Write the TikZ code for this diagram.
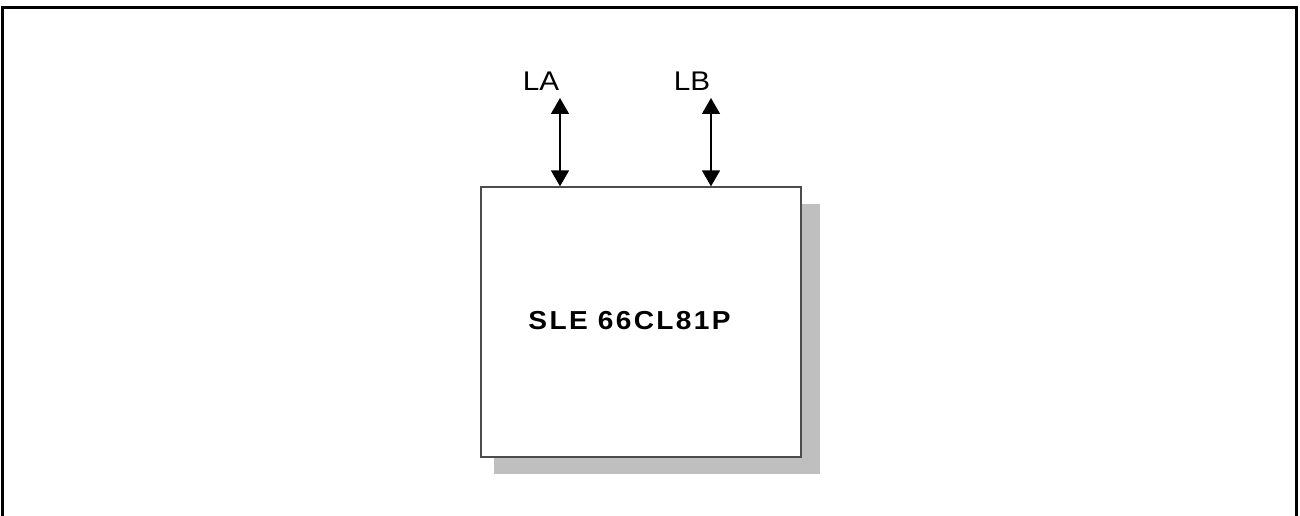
\documentclass[tikz,border=0pt]{standalone}
\usepackage{fontspec}
\setmainfont{Liberation Sans}
\usetikzlibrary{arrows.meta,positioning}

\begin{document}
\begin{tikzpicture}[x=1pt,y=1pt]
                \tikzstyle{every node}+=[inner sep=0pt]
                \tikzstyle{pinarrow}=[black, line width=1.6pt, {Triangle[width=18pt,length=16pt]}-{Triangle[width=18pt,length=16pt]}]
                \tikzstyle{pinlabel}=[font=\fontsize{27}{32}\selectfont\addfontfeature{FakeStretch=1.1}]
                \useasboundingbox (0,0) rectangle (1300,-516);
                \draw [black, line width=3pt] (2.5,-520) -- (2.5,-7.5) -- (1296.5,-7.5) -- (1296.5,-520);
                \fill [black!25] (494,-204) rectangle (820,-474);
                \node [draw=black!70, fill=white, line width=1.3pt, minimum width=320pt, minimum height=270pt] (chip) at (641,-322) {};
                \node [font=\bfseries\fontsize{26}{30}\selectfont\addfontfeature{FakeStretch=1.08,LetterSpace=9}] (chipname) at (629.5,-321) {SLE 66CL81P};
                \node [pinlabel] (la) at (541,-81) {LA};
                \node [pinlabel] (lb) at (692,-81) {LB};
                \coordinate (pa) at (560,-98);
                \coordinate (pb) at (711,-98);
                \draw [pinarrow] (pa) -- (chip.north -| pa);
                \draw [pinarrow] (pb) -- (chip.north -| pb);
\end{tikzpicture}
\end{document}
